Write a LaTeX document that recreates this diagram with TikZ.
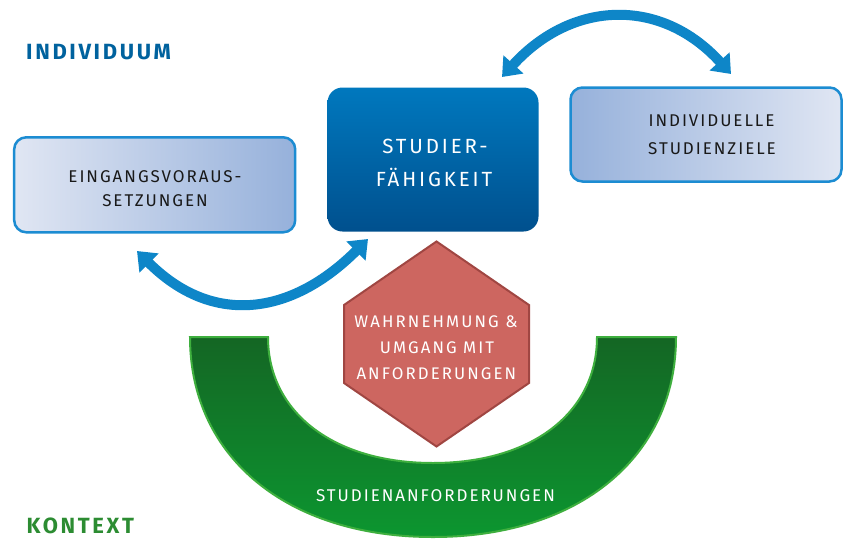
\documentclass[tikz,border=0pt]{standalone}
\usepackage{fontspec}
\setmainfont{Fira Sans}
\newfontfamily\boxfont[LetterSpace=11.5]{Fira Sans}
\newfontfamily\hexfont[LetterSpace=12.5]{Fira Sans}
\newfontfamily\studfont[LetterSpace=14]{Fira Sans}
\newfontfamily\headfont[LetterSpace=12]{Fira Sans Bold}
\usetikzlibrary{arrows.meta,shapes.geometric}
\definecolor{arrowblue}{RGB}{14,134,200}
\definecolor{borderblue}{RGB}{28,140,210}
\definecolor{lightbox}{RGB}{224,230,243}
\definecolor{darkbox}{RGB}{150,177,219}
\definecolor{midtop}{RGB}{0,120,190}
\definecolor{midbot}{RGB}{0,80,142}
\definecolor{hexfill}{RGB}{205,102,96}
\definecolor{hexline}{RGB}{160,70,66}
\definecolor{greentop}{RGB}{20,102,36}
\definecolor{greenbot}{RGB}{12,150,48}
\definecolor{greenline}{RGB}{62,175,62}
\definecolor{headblue}{RGB}{0,98,158}
\definecolor{headgreen}{RGB}{44,140,50}
\definecolor{textdark}{RGB}{25,25,25}
\begin{document}
\begin{tikzpicture}[x=1pt,y=-1pt,
  sidebox/.style={draw=borderblue,line width=2.5pt,rounded corners=12pt,inner sep=0pt},
  txt/.style={anchor=base,inner sep=0pt,font=\boxfont\fontsize{17}{20}\selectfont,text=textdark},
  whitetxt/.style={anchor=base,inner sep=0pt,text=white},
  hextxt/.style={whitetxt,font=\hexfont\fontsize{16.8}{20}\selectfont},
  studtxt/.style={whitetxt,font=\studfont\fontsize{20.5}{24}\selectfont},
  head/.style={anchor=base west,inner sep=0pt,font=\headfont\fontsize{22}{24}\selectfont},
  bigarrow/.style={draw=arrowblue,line width=10pt,{Triangle[length=17pt,width=26pt]}-{Triangle[length=17pt,width=26pt]}}
]
\useasboundingbox[fill=white] (0,0) rectangle (845,538);

% headings
\node[head,text=headblue] (individuum) at (26,59) {INDIVIDUUM};
\node[head,text=headgreen] (kontext) at (26.5,533) {KONTEXT};

% green half ring
\path[draw=greenline,line width=2pt,top color=greentop,bottom color=greenbot]
  (190,337) .. controls (190,457) and (287,537) .. (433,537)
  .. controls (579,537) and (676,457) .. (676,337)
  -- (597,337) .. controls (597,412.6) and (532,463) .. (433,463)
  .. controls (334,463) and (268,412.6) .. (268,337) -- cycle;
\node[whitetxt,font=\boxfont\fontsize{17}{20}\selectfont] (anf) at (435.5,501) {STUDIENANFORDERUNGEN};

% hexagon
\path[draw=hexline,line width=2pt,fill=hexfill]
  (436.5,241.5) -- (529,305) -- (529,383) -- (436.5,446.5) -- (344,383) -- (344,305) -- cycle;
\node[hextxt] (w1) at (436,327.3) {WAHRNEHMUNG \&};
\node[hextxt] (w2) at (437,353.3) {UMGANG MIT};
\node[hextxt] (w3) at (436.3,379) {ANFORDERUNGEN};

% boxes
\node[sidebox,left color=lightbox,right color=darkbox,minimum width=281pt,minimum height=95pt] (eing) at (154.7,184.8) {};
\node[txt] (e1) at (155,182.7) {EINGANGSVORAUS-};
\node[txt] (e2) at (155,206.7) {SETZUNGEN};

\node[sidebox,left color=darkbox,right color=lightbox,minimum width=271pt,minimum height=94pt] (ziele) at (706,134.5) {};
\node[txt] (z1) at (711.5,126) {INDIVIDUELLE};
\node[txt] (z2) at (712,154.3) {STUDIENZIELE};

\node[rounded corners=15pt,top color=midtop,bottom color=midbot,minimum width=211pt,minimum height=144pt,inner sep=0pt] (stud) at (433,159.5) {};
\node[studtxt] (s1) at (435,153.3) {STUDIER-};
\node[studtxt] (s2) at (434,186.7) {FÄHIGKEIT};

% arrows
\coordinate (ta) at (502,77);
\coordinate (tb) at (731,74);
\coordinate (ba) at (137,251);
\coordinate (bb) at (368,239);
\draw[bigarrow] (ta) .. controls (572,0) and (661,-3) .. (tb);
\draw[bigarrow] (ba) .. controls (213,327) and (292,315) .. (bb);
\end{tikzpicture}
\end{document}
